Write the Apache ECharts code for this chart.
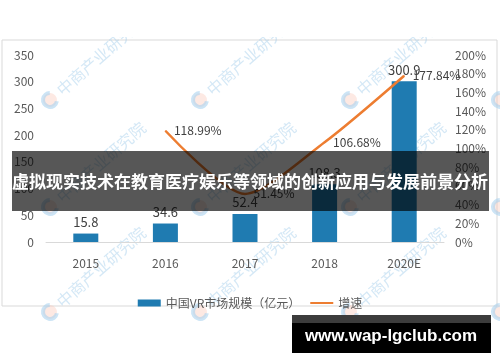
<!DOCTYPE html>
<html>
<head>
<meta charset="utf-8">
<script src="https://cdn.jsdelivr.net/npm/echarts@6/dist/echarts.min.js"></script>
<style>
html,body{margin:0;padding:0;background:#fff;}
#c{width:500px;height:362px;}
</style>
</head>
<body>
<div id="c"></div>
<script>
const categories = ['2015', '2016', '2017', '2018', '2020E'];
const marketSize = [15.8, 34.6, 52.4, 108.3, 300.9];
const growthRate = [null, 118.99, 51.45, 106.68, 177.84];
const leftTicks = [0, 350, 50];   // min, max, interval
const rightTicks = [0, 200, 20];  // min, max, interval
const barName = '中国VR市场规模（亿元）';
const lineName = '增速';
const titleText = '虚拟现实技术在教育医疗娱乐等领域的创新应用与发展前景分析';
const footerText = 'www.wap-lgclub.com';
const watermarkText = '中商产业研究院';

const FONT = '"Noto Sans CJK SC", "Noto Sans", sans-serif';
const chart = echarts.init(document.getElementById('c'));

// watermark graphics
const wm = [];
const wmX = [-100, 50, 200, 350, 500];
const wmY = [100, 207, 312];
const rot = 0.72;
wmX.forEach(function (x) {
  wmY.forEach(function (y) {
    wm.push({
      type: 'group', x: x, y: y, rotation: rot, z: 0, silent: true,
      children: [
        { type: 'circle', shape: { cx: 0, cy: 0, r: 7 }, style: { fill: 'rgba(250,200,185,0.4)' } },
        { type: 'arc', shape: { cx: 0, cy: 0, r: 7, startAngle: 0.9, endAngle: 5.4 }, style: { stroke: 'rgba(170,210,238,0.6)', lineWidth: 4, fill: 'none' } },
        { type: 'text', x: 12, y: 0, style: { text: watermarkText, font: '16px ' + FONT, fill: 'rgba(170,210,238,0.5)', textVerticalAlign: 'middle', textAlign: 'left' } }
      ]
    });
  });
});

const option = {
  animation: false,
  backgroundColor: '#fff',
  textStyle: { fontFamily: FONT },
  grid: { left: 46, right: 56, top: 55, bottom: 120, containLabel: false },
  legend: {
    left: 'center', top: 292,
    itemWidth: 23, itemHeight: 7, itemGap: 9,
    textStyle: { color: '#595959', fontSize: 12, fontFamily: FONT },
    data: [
      { name: barName, icon: 'rect' },
      { name: lineName, itemStyle: { opacity: 0 } }
    ]
  },
  xAxis: {
    type: 'category', data: categories,
    axisLine: { show: true, lineStyle: { color: '#d9d9d9', width: 1 } },
    axisTick: { show: false },
    axisLabel: { color: '#595959', fontSize: 12, margin: 15 },
    splitLine: { show: false }
  },
  yAxis: [
    {
      type: 'value', min: leftTicks[0], max: leftTicks[1], interval: leftTicks[2],
      axisLine: { show: false }, axisTick: { show: false }, splitLine: { show: false },
      axisLabel: { color: '#595959', fontSize: 12, margin: 12 }
    },
    {
      type: 'value', min: rightTicks[0], max: rightTicks[1], interval: rightTicks[2],
      position: 'right',
      axisLine: { show: false }, axisTick: { show: false }, splitLine: { show: false },
      axisLabel: { color: '#595959', fontSize: 12, margin: 11, formatter: '{value}%' }
    }
  ],
  series: [
    {
      name: barName, type: 'bar', data: marketSize, yAxisIndex: 0,
      barWidth: 25,
      itemStyle: { color: '#1f7bb1' },
      label: { show: true, position: 'top', distance: 5, color: '#404040', fontSize: 13 },
      z: 2
    },
    {
      name: lineName, type: 'line', data: growthRate, yAxisIndex: 1,
      smooth: 0.25, connectNulls: false,
      symbol: 'circle', symbolSize: 1,
      itemStyle: { color: '#ed7d31' },
      lineStyle: { color: '#ed7d31', width: 2.5 },
      label: { show: true, position: 'right', distance: 8, color: '#404040', fontSize: 12, formatter: '{c}%' },
      z: 3
    }
  ],
  graphic: [
    { type: 'rect', shape: { x: 2, y: 40, width: 495, height: 266 }, style: { fill: 'none', stroke: '#d9d9d9', lineWidth: 1 }, z: -1, silent: true }
  ].concat(wm).concat([
    { type: 'rect', shape: { x: 0, y: 0, width: 500, height: 37 }, style: { fill: '#fff' }, z: 1, silent: true },
    { type: 'rect', shape: { x: 0, y: 0, width: 1, height: 362 }, style: { fill: '#fff' }, z: 1, silent: true },
    { type: 'rect', shape: { x: 12, y: 151, width: 477, height: 60 }, style: { fill: 'rgba(0,0,0,0.66)' }, z: 100, silent: true },
    { type: 'text', x: 250, y: 182, z: 101, silent: true,
      style: { text: titleText, font: 'bold 17px ' + FONT, fill: '#fff', textAlign: 'center', textVerticalAlign: 'middle' } },
    { type: 'rect', shape: { x: 292, y: 315, width: 199, height: 38 }, style: { fill: '#000' }, z: 100, silent: true },
    { type: 'rect', shape: { x: 292, y: 315, width: 199, height: 8 }, style: { fill: '#3c3c3c' }, z: 100, silent: true },
    { type: 'text', x: 391, y: 336, z: 101, silent: true,
      style: { text: footerText, font: 'bold 17px "Liberation Sans", Arial, sans-serif', fill: '#fff', textAlign: 'center', textVerticalAlign: 'middle' } }
  ])
};
chart.setOption(option);
</script>
</body>
</html>
